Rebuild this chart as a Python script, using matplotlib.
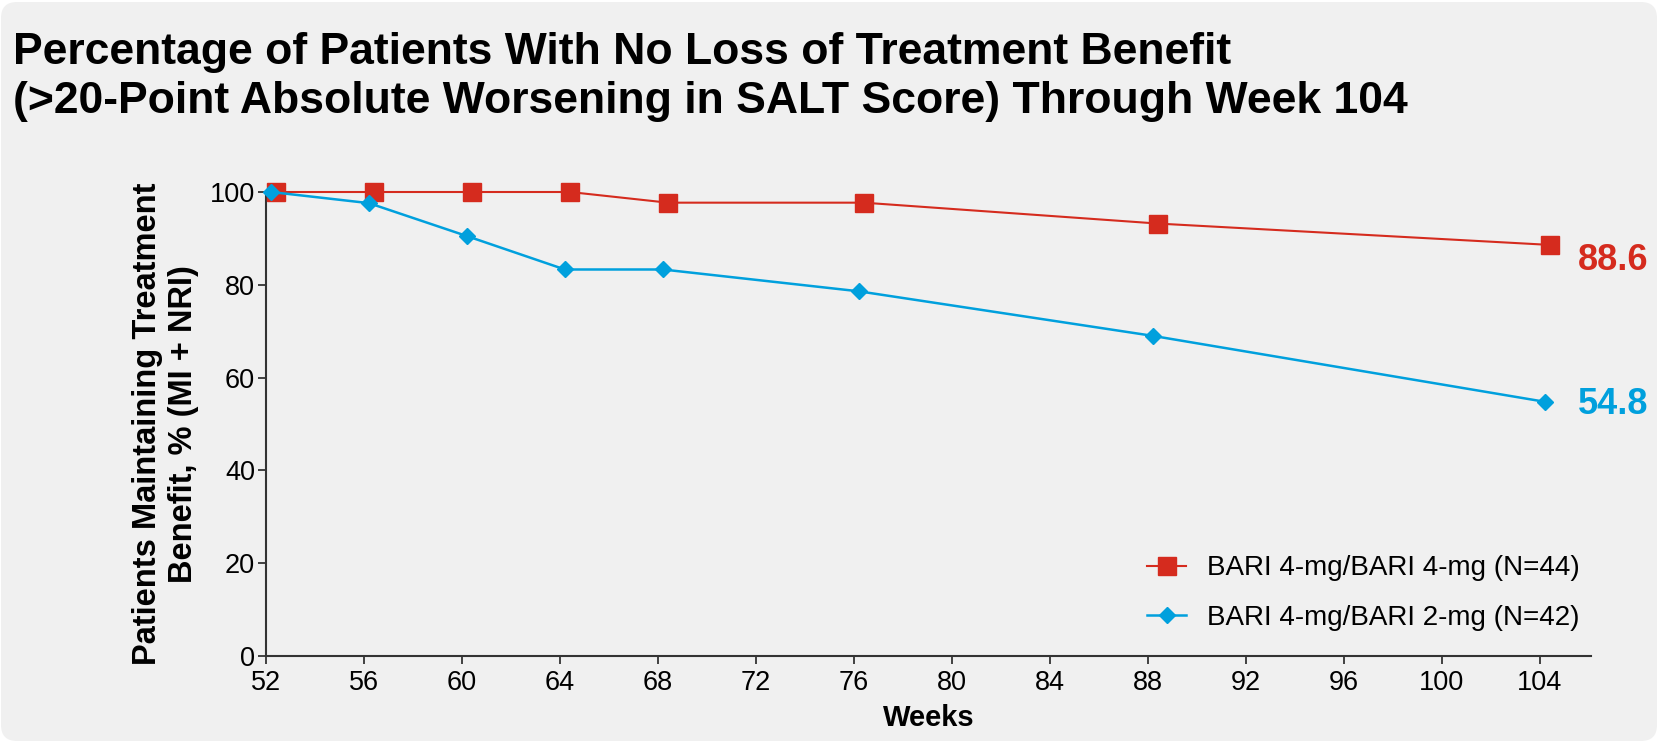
import matplotlib
matplotlib.use("Agg")
import matplotlib.pyplot as plt
import matplotlib.transforms as mtransforms
from matplotlib.patches import FancyBboxPatch

plt.rcParams["font.family"] = ["Liberation Sans", "DejaVu Sans"]

# data
weeks = [52, 56, 60, 64, 68, 76, 88, 104]
bari4_4 = [100, 100, 100, 100, 97.7, 97.7, 93.2, 88.6]
bari4_2 = [100, 97.6, 90.5, 83.3, 83.3, 78.6, 69.0, 54.8]
series_labels = ["BARI 4-mg/BARI 4-mg (N=44)", "BARI 4-mg/BARI 2-mg (N=42)"]
xticks = list(range(52, 105, 4))
yticks = [0, 20, 40, 60, 80, 100]

RED = "#d52b1e"
BLUE = "#00a0dd"
BG = "#f0f0f0"

W, H, DPI = 1659, 743, 100
fig = plt.figure(figsize=(W / DPI, H / DPI), dpi=DPI, facecolor="white")

# rounded grey panel
panel = FancyBboxPatch((1, 2), W - 3, H - 4, boxstyle="round,pad=0,rounding_size=16",
                       transform=None, facecolor=BG, edgecolor="none", zorder=-10)
fig.patches.append(panel)

ax = fig.add_axes([266 / W, 1 - 656 / H, (1591 - 266) / W, (656 - 192) / H])
ax.set_facecolor(BG)

off_red = mtransforms.offset_copy(ax.transData, fig=fig, x=10, y=0, units="dots")
off_blue = mtransforms.offset_copy(ax.transData, fig=fig, x=5, y=0, units="dots")

ax.plot(weeks, bari4_4, color=RED, lw=1.5, marker="s", ms=13.5, mec=RED, mfc=RED,
        transform=off_red, clip_on=False, zorder=3, label=series_labels[0])
ax.plot(weeks, bari4_2, color=BLUE, lw=1.8, marker="D", ms=8, mec=BLUE, mfc=BLUE,
        transform=off_blue, clip_on=False, zorder=4, label=series_labels[1])

# end-of-line value labels
ax.annotate(f"{bari4_4[-1]:.1f}", (weeks[-1], bari4_4[-1]), xytext=(38, -16),
            textcoords="offset pixels", color=RED, fontsize=26, fontweight="bold",
            va="center", ha="left", annotation_clip=False)
ax.annotate(f"{bari4_2[-1]:.1f}", (weeks[-1], bari4_2[-1]), xytext=(38, -3),
            textcoords="offset pixels", color=BLUE, fontsize=26, fontweight="bold",
            va="center", ha="left", annotation_clip=False)

ax.set_xlim(52, 106.1)
ax.set_ylim(0, 100)
ax.set_xticks(xticks)
ax.set_yticks(yticks)
ax.tick_params(axis="both", labelsize=19.5, length=6, width=1.3, color="#333333", direction="out")
ax.tick_params(axis="y", pad=2)
ax.tick_params(axis="x", pad=4)
for side in ("top", "right"):
    ax.spines[side].set_visible(False)
for side in ("left", "bottom"):
    ax.spines[side].set_color("#333333")
    ax.spines[side].set_linewidth(1.5)

ax.set_xlabel("Weeks", fontsize=21, fontweight="bold", labelpad=6)
ax.set_ylabel("Patients Maintaining Treatment\nBenefit, % (MI + NRI)", fontsize=23.5,
              fontweight="bold", labelpad=8, linespacing=1.2)

ax.legend(loc="lower right", bbox_to_anchor=(1.0, 0.03), frameon=False, fontsize=20,
          handlelength=1.4, handletextpad=0.75, labelspacing=0.85, borderaxespad=0)

fig.text(13 / W, 1 - 64 / H, "Percentage of Patients With No Loss of Treatment Benefit",
         fontsize=32, fontweight="bold", ha="left", va="baseline")
fig.text(13 / W, 1 - 113 / H, "(>20-Point Absolute Worsening in SALT Score) Through Week 104",
         fontsize=32, fontweight="bold", ha="left", va="baseline")

fig.savefig("out.png", dpi=DPI, facecolor=fig.get_facecolor())
